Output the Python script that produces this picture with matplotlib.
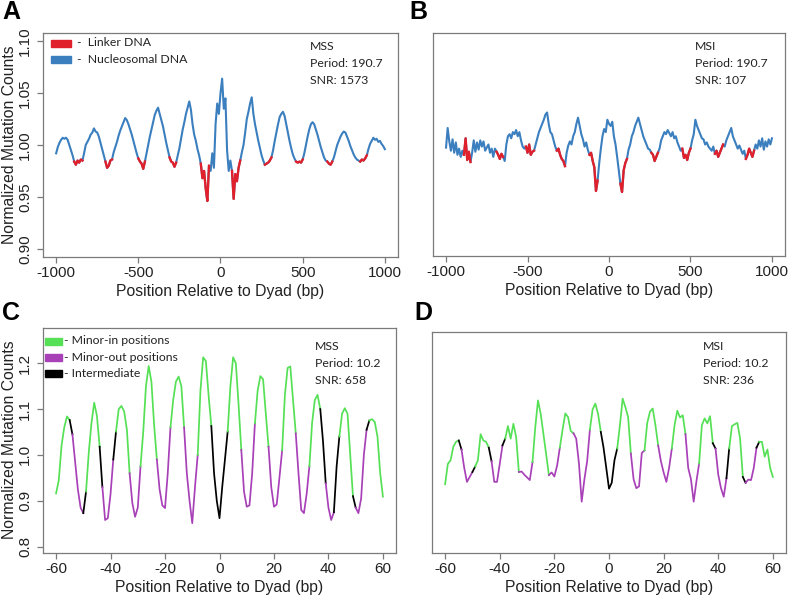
import numpy as np
import matplotlib.pyplot as plt

plt.rcParams['font.family'] = ['Liberation Sans', 'DejaVu Sans']
plt.rcParams['axes.unicode_minus'] = False

# ---- nucleosome scale (A, B) ----
pos_nuc = np.arange(-1000, 1001, 10)
mss_nuc = [
    0.992, 0.998, 1.002, 1.005, 1.007, 1.006, 1.007, 1.005, 1.000, 0.995,
    0.990, 0.984, 0.981, 0.985, 0.983, 0.986, 0.985, 0.992, 1.000, 1.003,
    1.006, 1.010, 1.012, 1.016, 1.013, 1.012, 1.008, 1.002, 0.996, 0.990,
    0.984, 0.978, 0.980, 0.985, 0.986, 0.993, 0.998, 1.003, 1.009, 1.014,
    1.018, 1.022, 1.026, 1.024, 1.020, 1.015, 1.010, 1.004, 0.998, 0.992,
    0.987, 0.984, 0.982, 0.977, 0.984, 0.992, 1.000, 1.008, 1.015, 1.022,
    1.029, 1.033, 1.036, 1.030, 1.024, 1.018, 1.010, 1.002, 0.995, 0.988,
    0.984, 0.983, 0.979, 0.983, 0.990, 0.997, 1.006, 1.015, 1.022, 1.030,
    1.036, 1.042, 1.034, 1.020, 1.010, 1.004, 0.996, 0.990, 0.982, 0.968,
    0.975, 0.958, 0.946, 0.980, 0.975, 0.992, 0.978, 1.020, 1.040, 1.030,
    1.050, 1.064, 1.035, 1.045, 0.995, 0.975, 0.985, 0.975, 0.948, 0.972,
    0.965, 0.978, 0.985, 0.993, 1.000, 1.012, 1.025, 1.032, 1.040, 1.046,
    1.030, 1.020, 1.012, 1.004, 0.997, 0.990, 0.985, 0.981, 0.982, 0.983,
    0.985, 0.988, 0.995, 1.004, 1.012, 1.020, 1.027, 1.030, 1.032, 1.028,
    1.020, 1.012, 1.004, 0.997, 0.991, 0.987, 0.984, 0.983, 0.984, 0.983,
    0.986, 0.992, 1.000, 1.008, 1.015, 1.020, 1.022, 1.020, 1.015, 1.010,
    1.004, 0.998, 0.993, 0.988, 0.985, 0.984, 0.982, 0.981, 0.984, 0.988,
    0.994, 1.000, 1.004, 1.008, 1.011, 1.013, 1.012, 1.008, 1.004, 0.999,
    0.995, 0.991, 0.988, 0.986, 0.985, 0.984, 0.986, 0.985, 0.987, 0.990,
    0.996, 1.001, 1.004, 1.007, 1.005, 1.006, 1.003, 1.004, 1.001, 0.999,
    0.996]
msi_nuc = [
    0.997, 1.016, 1.003, 0.994, 1.005, 0.992, 1.002, 0.990, 0.996, 0.988,
    0.994, 0.990, 1.006, 0.985, 0.993, 0.983, 0.992, 1.004, 0.993, 1.002,
    0.995, 1.004, 0.998, 1.003, 0.994, 0.997, 1.000, 0.992, 0.996, 0.988,
    0.996, 0.993, 0.990, 0.986, 0.991, 0.988, 0.984, 1.000, 1.008, 1.010,
    1.006, 1.012, 1.010, 1.014, 1.008, 1.012, 1.004, 0.998, 0.996, 0.998,
    0.992, 1.000, 0.990, 0.993, 0.994, 1.000, 1.006, 1.012, 1.016, 1.020,
    1.024, 1.029, 1.031, 1.020, 1.012, 1.010, 1.004, 0.998, 0.994, 0.996,
    0.990, 0.986, 0.984, 0.979, 0.992, 0.999, 1.003, 1.000, 1.008, 1.012,
    1.020, 1.026, 1.018, 1.010, 1.005, 0.998, 1.002, 0.995, 0.990, 0.992,
    0.984, 0.978, 0.955, 0.965, 0.982, 0.996, 1.008, 1.015, 1.012, 1.024,
    1.020, 1.018, 1.022, 1.008, 1.000, 0.988, 0.975, 0.962, 0.954, 0.975,
    0.982, 0.986, 0.995, 1.000, 1.008, 1.012, 1.018, 1.022, 1.026, 1.020,
    1.014, 1.008, 1.004, 1.000, 0.996, 0.995, 0.992, 0.990, 0.984, 0.988,
    0.992, 0.996, 1.004, 1.008, 1.012, 1.010, 1.014, 1.011, 1.008, 1.012,
    1.006, 1.008, 1.002, 0.998, 0.994, 0.996, 0.987, 0.990, 0.985, 0.992,
    0.996, 1.004, 1.010, 1.024, 1.018, 1.014, 1.010, 1.006, 1.005, 1.000,
    1.002, 0.998, 0.996, 0.994, 0.998, 0.991, 0.994, 0.988, 0.992, 0.996,
    1.000, 0.998, 1.004, 1.008, 1.012, 1.016, 1.008, 1.004, 1.000, 0.996,
    0.999, 0.995, 0.991, 0.994, 0.986, 0.990, 0.996, 0.992, 0.988, 0.994,
    1.000, 0.996, 1.004, 0.998, 1.006, 0.995, 1.003, 0.998, 1.005, 1.000,
    1.006]
linker_mss = [(-890, -840), (-700, -660), (-500, -460), (-310, -270), (-120, -70),
              (70, 120), (270, 310), (460, 500), (650, 680), (850, 890)]
linker_msi = [(-890, -850), (-690, -650), (-510, -460), (-320, -270), (-120, -70),
              (70, 110), (260, 300), (450, 500), (650, 700), (840, 890)]

# ---- DNA helix scale (C, D) ----
pos_bp = np.arange(-60, 61)
mss_bp = [
    0.916, 0.945, 1.020, 1.060, 1.084, 1.076, 1.045, 0.985, 0.925, 0.885,
    0.873, 0.920, 1.005, 1.070, 1.114, 1.085, 1.018, 0.930, 0.858, 0.862,
    0.915, 0.990, 1.051, 1.100, 1.107, 1.095, 1.055, 0.960, 0.895, 0.865,
    0.885, 0.975, 1.050, 1.150, 1.194, 1.160, 1.065, 0.990, 0.925, 0.890,
    0.884, 0.960, 1.060, 1.120, 1.160, 1.171, 1.150, 1.060, 0.960, 0.900,
    0.851, 0.930, 1.000, 1.140, 1.213, 1.205, 1.130, 1.063, 0.960, 0.900,
    0.862, 0.930, 0.990, 1.051, 1.150, 1.213, 1.200, 1.110, 1.011, 0.920,
    0.887, 0.890, 0.960, 1.069, 1.140, 1.172, 1.165, 1.090, 1.018, 0.930,
    0.887, 0.892, 0.950, 1.010, 1.130, 1.190, 1.193, 1.120, 1.047, 0.960,
    0.880, 0.873, 0.915, 0.975, 1.070, 1.120, 1.131, 1.100, 1.030, 0.938,
    0.885, 0.858, 0.875, 0.975, 1.040, 1.090, 1.102, 1.090, 1.000, 0.910,
    0.885, 0.873, 0.905, 1.000, 1.055, 1.075, 1.078, 1.072, 1.040, 0.960,
    0.909]
msi_bp = [
    0.939, 0.984, 0.992, 1.022, 1.033, 1.036, 1.016, 0.975, 0.944, 0.955,
    0.966, 0.978, 0.992, 1.050, 1.036, 1.033, 1.020, 0.990, 0.944, 0.944,
    0.984, 1.025, 1.040, 1.068, 1.040, 1.073, 1.044, 0.966, 0.967, 0.960,
    0.954, 0.948, 0.988, 1.065, 1.125, 1.095, 1.050, 1.005, 0.959, 0.965,
    0.956, 0.980, 1.020, 1.060, 1.096, 1.088, 1.057, 1.052, 1.040, 0.985,
    0.900, 0.950, 0.990, 1.060, 1.105, 1.118, 1.095, 1.055, 1.020, 0.975,
    0.929, 0.942, 0.992, 1.018, 1.070, 1.129, 1.110, 1.088, 1.007, 0.950,
    0.930, 0.934, 1.008, 1.014, 1.075, 1.100, 1.107, 1.070, 1.025, 0.990,
    0.965, 0.944, 0.975, 1.018, 1.070, 1.102, 1.087, 1.092, 1.050, 0.975,
    0.950, 0.900, 0.945, 0.985, 1.070, 1.085, 1.074, 1.090, 1.030, 1.018,
    0.960, 0.930, 0.911, 0.952, 1.018, 1.068, 1.072, 1.075, 1.040, 0.955,
    0.942, 0.949, 0.948, 0.975, 1.020, 1.033, 1.033, 1.000, 1.016, 0.975,
    0.955]
# (start, end, class) with class: 'in' minor-in, 'out' minor-out, 'mid' intermediate
class_mss = [(-60, -55, 'in'), (-55, -54, 'mid'), (-54, -50, 'out'), (-50, -49, 'mid'),
             (-49, -44, 'in'), (-44, -43, 'mid'), (-43, -39, 'out'), (-39, -38, 'mid'),
             (-38, -33, 'in'), (-33, -29, 'out'), (-29, -23, 'in'), (-23, -18, 'out'),
             (-18, -13, 'in'), (-13, -8, 'out'), (-8, -3, 'in'), (-3, 3, 'mid'),
             (3, 8, 'in'), (8, 13, 'out'), (13, 18, 'in'), (18, 23, 'out'),
             (23, 28, 'in'), (28, 33, 'out'), (33, 37, 'in'), (37, 39, 'mid'),
             (39, 42, 'out'), (42, 44, 'mid'), (44, 49, 'in'), (49, 50, 'mid'),
             (50, 54, 'out'), (54, 55, 'mid'), (55, 60, 'in')]
class_msi = [(-60, -55, 'in'), (-55, -54, 'mid'), (-54, -50, 'out'), (-50, -49, 'mid'),
             (-49, -44, 'in'), (-44, -43, 'mid'), (-43, -39, 'out'), (-39, -38, 'mid'),
             (-38, -33, 'in'), (-33, -28, 'out'), (-28, -22, 'in'), (-22, -18, 'out'),
             (-18, -13, 'in'), (-13, -7, 'out'), (-7, -3, 'in'), (-3, 3, 'mid'),
             (3, 8, 'in'), (8, 13, 'out'), (13, 18, 'in'), (18, 23, 'out'),
             (23, 28, 'in'), (28, 33, 'out'), (33, 38, 'in'), (38, 39, 'mid'),
             (39, 43, 'out'), (43, 44, 'mid'), (44, 49, 'in'), (49, 50, 'mid'),
             (50, 54, 'out'), (54, 55, 'mid'), (55, 60, 'in')]

nuc_blue = '#3b7fbf'
link_red = '#e0202a'
cls_col = {'in': '#55e055', 'out': '#a840b8', 'mid': 'black'}
box_gray = '#7a7a7a'
txt = '#222222'

W, H = 789, 595
fig = plt.figure(figsize=(W / 100, H / 100), dpi=100)


def add_ax(l, t, r, b):
    return fig.add_axes([l / W, 1 - b / H, (r - l) / W, (b - t) / H])


def style(ax, yticks=True):
    for s in ax.spines.values():
        s.set_color(box_gray)
        s.set_linewidth(0.9)
    ax.tick_params(axis='both', colors=box_gray, labelcolor=txt, labelsize=11,
                   length=4, width=0.9)
    ax.tick_params(axis='x', pad=2.5)
    if not yticks:
        ax.tick_params(axis='y', left=False, labelleft=False)
    else:
        ax.tick_params(axis='y', pad=4)
        for lab in ax.get_yticklabels():
            lab.set_rotation(90)
            lab.set_va('center')
    ax.set_xlabel('Position Relative to Dyad (bp)', fontsize=11.3, color=txt, labelpad=3)


def panel_nuc(ax, y, linkers):
    y = np.array(y)
    ax.plot(pos_nuc, y, color=nuc_blue, lw=1.5)
    mask = np.zeros(len(pos_nuc), bool)
    for a, b in linkers:
        mask |= (pos_nuc >= a) & (pos_nuc <= b)
    ax.plot(pos_nuc, np.where(mask, y, np.nan), color=link_red, lw=1.7)
    ax.set_xlim(-1080, 1080)
    ax.set_ylim(0.892, 1.108)
    ax.set_xticks([-1000, -500, 0, 500, 1000])
    ax.set_yticks([0.90, 0.95, 1.00, 1.05, 1.10])
    ax.set_yticklabels(['0.90', '0.95', '1.00', '1.05', '1.10'])


def panel_bp(ax, y, classes):
    y = np.array(y)
    for a, b, c in classes:
        m = (pos_bp >= a) & (pos_bp <= b)
        ax.plot(pos_bp[m], y[m], color=cls_col[c], lw=1.25)
    ax.set_xlim(-64.8, 64.8)
    ax.set_ylim(0.786, 1.277)
    ax.set_xticks([-60, -40, -20, 0, 20, 40, 60])
    ax.set_yticks([0.8, 0.9, 1.0, 1.1, 1.2])
    ax.set_yticklabels(['0.8', '0.9', '1.0', '1.1', '1.2'])


axA = add_ax(43, 33, 398, 257)
panel_nuc(axA, mss_nuc, linker_mss)
style(axA)

axB = add_ax(433, 33, 785, 256)
panel_nuc(axB, msi_nuc, linker_msi)
style(axB, yticks=False)

axC = add_ax(43, 328, 396, 553)
panel_bp(axC, mss_bp, class_mss)
style(axC)

axD = add_ax(432, 332, 786, 553)
panel_bp(axD, msi_bp, class_msi)
style(axD, yticks=False)


def ftext(x, y, s, **kw):
    fig.text(x / W, 1 - y / H, s, **kw)


# y axis titles
ftext(10, 145, 'Normalized Mutation Counts', fontsize=11.3, color=txt, rotation=90,
      ha='center', va='center')
ftext(10, 440, 'Normalized Mutation Counts', fontsize=11.3, color=txt, rotation=90,
      ha='center', va='center')

# panel letters
for x, y, s in [(2, 12, 'A'), (409, 12, 'B'), (2, 313, 'C'), (414, 313, 'D')]:
    ftext(x, y, s, fontsize=18, fontweight='bold', va='center', ha='left')

# stats text
note_kw = dict(fontsize=8.8, family=['Lato', 'DejaVu Sans'], va='center', ha='left',
               color=txt)
for x, y, lines in [(310, 47, ['MSS', 'Period: 190.7', 'SNR: 1573']),
                    (695, 47, ['MSI', 'Period: 190.7', 'SNR: 107']),
                    (315, 347, ['MSS', 'Period: 10.2', 'SNR: 658']),
                    (703, 347, ['MSI', 'Period: 10.2', 'SNR: 236'])]:
    for i, s in enumerate(lines):
        ftext(x, y + 16.5 * i, s, **note_kw)

# legends
leg_kw = dict(fontsize=8.8, family=['Lato', 'DejaVu Sans'], va='center', ha='left',
              color=txt)
for i, (c, s) in enumerate([(link_red, '-  Linker DNA'), (nuc_blue, '-  Nucleosomal DNA')]):
    yc = 43 + 16.5 * i
    fig.patches.append(plt.Rectangle((51 / W, 1 - (yc + 3.5) / H), 20 / W, 7 / H,
                                     transform=fig.transFigure, color=c))
    ftext(77, yc, s, **leg_kw)
for i, (c, s) in enumerate([(cls_col['in'], '- Minor-in positions'),
                            (cls_col['out'], '- Minor-out positions'),
                            (cls_col['mid'], '- Intermediate')]):
    yc = 341 + 16.3 * i
    fig.patches.append(plt.Rectangle((44.5 / W, 1 - (yc + 3.5) / H), 17 / W, 7 / H,
                                     transform=fig.transFigure, color=c))
    ftext(64, yc, s, **leg_kw)

fig.savefig('out.png', dpi=100)
